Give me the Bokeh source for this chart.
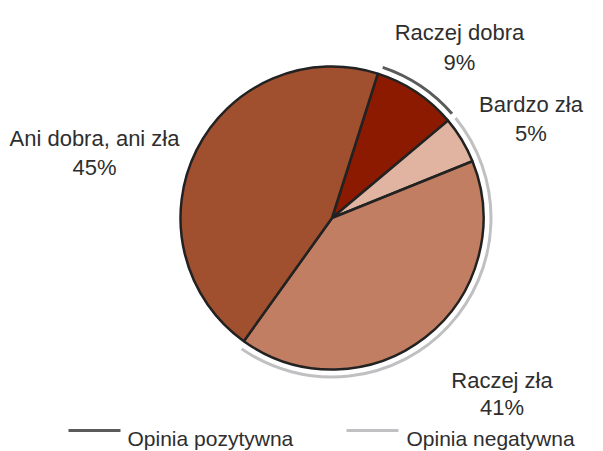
import numpy as np
from bokeh.plotting import figure
from bokeh.models import Range1d, ColumnDataSource
from bokeh.core.properties import value
from bokeh.embed import file_html
from bokeh.resources import INLINE

# ---- data ----
categories = ["Raczej dobra", "Bardzo zła", "Raczej zła", "Ani dobra, ani zła"]
values = [9, 5, 41, 45]
colors = ["#8B1A00", "#E0B4A0", "#C27E62", "#A0502F"]
groups = ["Opinia pozytywna", "Opinia negatywna"]
group_members = [["Raczej dobra"], ["Bardzo zła", "Raczej zła"]]
group_colors = ["#5B5B5B", "#C0C0C3"]

start_clock = 17.6  # degrees clockwise from 12 o'clock
FONT = "Liberation Sans"

W, H = 603, 451
p = figure(width=W, height=H, x_range=Range1d(0, W), y_range=Range1d(-H, 0),
           output_backend="svg", toolbar_location=None, min_border=0)
p.axis.visible = False
p.grid.visible = False
p.outline_line_color = None
p.background_fill_color = "white"
p.border_fill_color = "white"

cx, cy, R = 331.5, -217.5, 151.5
vals = np.array(values, dtype=float)
frac = vals / vals.sum() * 360.0
cum_end = start_clock + np.cumsum(frac)
cum_start = cum_end - frac
src = ColumnDataSource(dict(
    start=90 - cum_start, end=90 - cum_end, color=colors, name=categories))
p.wedge(x=cx, y=cy, radius=R, start_angle="start", end_angle="end",
        start_angle_units="deg", end_angle_units="deg",
        direction="clock", fill_color="color", line_color="#222222", line_width=2.5,
        source=src)

# group arcs
idx = {c: i for i, c in enumerate(categories)}
gap = 1.0
for members, gc in zip(group_members, group_colors):
    s = min(cum_start[idx[m]] for m in members) + gap
    e = max(cum_end[idx[m]] for m in members) - gap
    p.arc(x=cx, y=cy, radius=159, start_angle=90 - s, end_angle=90 - e,
          start_angle_units="deg", end_angle_units="deg",
          direction="clock", line_color=gc, line_width=3)

# labels
label_x = [459, 530.5, 501.5, 94]
label_y1 = [-32, -103.5, -379.5, -137.5]
label_y2 = [-61.5, -133, -407, -166.5]
pct = [f"{v}%" for v in values]
p.text(x=label_x, y=label_y1, text=categories, text_align="center",
       text_baseline="alphabetic", text_font=value(FONT), text_font_size="22px",
       text_color="#2E2E2E")
p.text(x=label_x, y=label_y2, text=pct, text_align="center",
       text_baseline="alphabetic", text_font=value(FONT), text_font_size="22px",
       text_color="#2E2E2E")

# legend
leg_x0 = [68, 346]
leg_x1 = [120, 398]
leg_y = -430
for x0, x1, gc in zip(leg_x0, leg_x1, group_colors):
    p.line(x=[x0, x1], y=[leg_y, leg_y], line_color=gc, line_width=3)
p.text(x=[127, 406], y=[-438, -438], text=groups, text_align="left",
       text_baseline="alphabetic", text_font=value(FONT), text_font_size="21px",
       text_color="#2E2E2E")

open("out.html", "w").write(file_html(p, INLINE))
